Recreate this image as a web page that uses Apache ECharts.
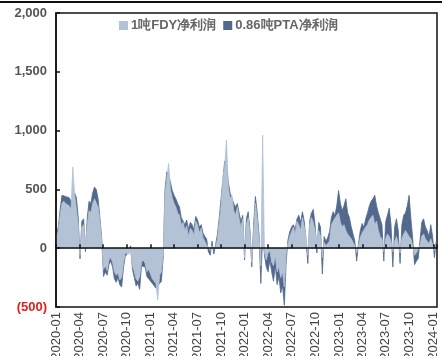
<!DOCTYPE html>
<html><head><meta charset="utf-8">
<script src="https://cdn.jsdelivr.net/npm/echarts@6/dist/echarts.min.js"></script>
<style>html,body{margin:0;padding:0;background:#fff}#c{width:442px;height:356px}</style>
</head><body><div id="c"></div>
<script>
// weekly observations starting from this date, one every 7 days
const startDate = '2020-01-03';
const stepDays = 7;
const seriesNames = ['1吨FDY净利润', '0.86吨PTA净利润'];
const yTicks = [-500, 0, 500, 1000, 1500, 2000];
const fdyProfit = [100,150,280,380,400,380,390,360,330,690,460,470,200,-60,180,200,20,200,320,300,
380,420,430,350,230,60,-180,-150,-190,-100,-80,-120,-200,-230,-210,-270,-250,-130,-40,-30,
-50,-20,-150,-200,-260,-280,-240,-120,-100,-130,-200,-180,-220,-260,-250,-300,-440,-230,-200,-50,
450,600,720,500,430,380,350,300,280,200,220,150,190,100,170,150,110,230,200,130,
170,90,60,30,40,-20,20,-10,10,80,220,360,600,700,920,520,420,450,320,280,
350,250,180,250,-80,200,260,120,-120,150,380,250,80,-150,960,-30,-100,-40,-20,-120,
-150,-60,-200,-160,-250,-200,-330,-50,40,100,140,180,120,230,200,150,260,180,100,-60,
200,260,220,150,40,150,100,-80,50,20,30,60,200,230,220,280,300,220,180,200,
150,120,100,80,50,20,-40,20,90,130,120,180,200,240,260,280,200,230,150,100,
80,-30,80,120,100,60,-30,60,100,40,-40,80,120,150,160,100,80,20,-60,-40,
-30,20,100,120,80,60,40,80,30,-20,20];
const ptaProfit = [130,180,330,450,460,440,450,430,400,420,470,430,260,-90,230,250,-30,260,400,380,
470,520,500,420,260,80,-240,-200,-230,-140,-110,-160,-260,-290,-250,-310,-330,-170,-70,-50,
-60,20,-180,-250,-320,-300,-350,-150,-140,-160,-240,-250,-280,-300,-320,-340,-330,-300,-280,-80,
500,650,620,560,490,450,420,380,350,260,270,200,240,160,220,200,160,270,240,180,
200,130,100,80,-30,-60,60,-50,30,120,260,420,580,740,720,560,470,480,380,350,
380,300,230,280,-100,250,310,150,-160,200,440,300,120,-300,120,-60,-160,-200,-100,-200,
-280,-150,-310,-240,-380,-320,-485,-120,70,140,180,200,160,250,280,220,310,230,60,-130,
230,300,330,200,-40,220,180,-220,100,60,90,140,260,310,280,360,490,380,320,360,
420,300,260,180,120,60,-110,40,150,210,180,250,300,360,400,420,450,360,300,250,
200,-110,220,280,340,200,-160,180,250,150,-130,200,280,300,360,450,250,80,-140,-110,
-90,60,220,250,180,150,100,200,100,-80,60];

function pairs(vals){
  const t0 = new Date(startDate + 'T00:00:00').getTime();
  return vals.map((v,i)=>[t0 + i*stepDays*86400000, v]);
}
const FONT = 'Liberation Sans, Arial, sans-serif';
const chart = echarts.init(document.getElementById('c'), null, {renderer:'canvas'});
const xMin = new Date('2020-01-01T00:00:00').getTime();
const xMax = new Date('2024-01-15T00:00:00').getTime();
const q = 100*86400000;
chart.setOption({
  animation:false,
  graphic:[{type:'rect',shape:{x:0,y:1,width:442,height:2},style:{fill:'#111'}}],
  grid:{left:56,right:5,top:13,bottom:49,show:true,borderColor:'#111',borderWidth:1.5,outerBoundsMode:'none'},
  legend:{top:14,left:114,itemWidth:9,itemHeight:9,itemGap:7,icon:'rect',
    data:seriesNames,
    textStyle:{fontFamily:FONT,fontSize:13,fontWeight:'bold',color:'#666',padding:[0,0,0,-2]}},
  xAxis:[{
    type:'time',min:xMin,max:xMax,position:'bottom',minInterval:q,maxInterval:q,
    axisLine:{show:false,onZero:false},axisTick:{show:false},splitLine:{show:false},
    axisLabel:{rotate:90,fontFamily:FONT,fontSize:13,color:'#444',margin:5,formatter:'{yyyy}-{MM}'}
  },{
    type:'time',min:xMin,max:xMax,position:'bottom',minInterval:q,maxInterval:q,z:10,
    axisLine:{show:true,onZero:true,lineStyle:{color:'#111',width:1.5}},
    axisTick:{show:true,inside:true,length:4,lineStyle:{color:'#111',width:1.5}},
    axisLabel:{show:false},splitLine:{show:false}
  }],
  yAxis:{type:'value',min:yTicks[0],max:yTicks[yTicks.length-1],interval:500,z:10,
    axisLine:{show:true,lineStyle:{color:'#111',width:1.5}},
    axisTick:{show:true,inside:true,length:4,lineStyle:{color:'#111',width:1.5}},
    splitLine:{show:false},
    axisLabel:{fontFamily:FONT,fontSize:13,fontWeight:'bold',margin:9,
      formatter:function(v){ return v < 0 ? '(' + Math.abs(v) + ')' : v.toLocaleString('en-US'); },
      color:function(v){ return Number(v) < 0 ? '#e0201b' : '#555'; }}
  },
  series:[
    {name:seriesNames[1],type:'line',xAxisIndex:0,data:pairs(ptaProfit),showSymbol:false,
     lineStyle:{color:'#52698d',width:0.8},areaStyle:{color:'#52698d',opacity:1},itemStyle:{color:'#52698d'},z:2},
    {name:seriesNames[0],type:'line',xAxisIndex:0,data:pairs(fdyProfit),showSymbol:false,
     lineStyle:{color:'#b4c2d5',width:0.8},areaStyle:{color:'#b4c2d5',opacity:1},itemStyle:{color:'#b4c2d5'},z:3}
  ]
});
</script></body></html>
